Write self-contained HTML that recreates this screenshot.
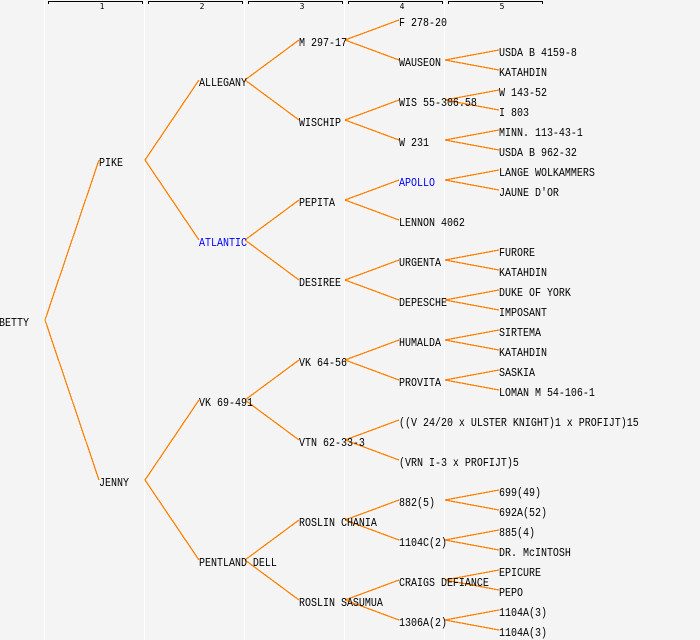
<!DOCTYPE html>
<html><head><meta charset="utf-8">
<style>
html,body{margin:0;padding:0;background:#f4f4f4;width:700px;height:640px;overflow:hidden}
svg{display:block}
text{font-family:"Liberation Mono",monospace;font-size:12px;fill:#000}
.n{font-family:"DejaVu Sans Mono",monospace;font-size:8px;text-anchor:middle}
.b{fill:#0000ff}
</style></head><body>
<svg width="700" height="640" viewBox="0 0 700 640" xmlns="http://www.w3.org/2000/svg">
<rect width="700" height="640" fill="#f4f4f4"/>
<g fill="#ffffff" shape-rendering="crispEdges">
<rect x="44" y="0" width="1" height="640"/><rect x="144" y="0" width="1" height="640"/><rect x="244" y="0" width="1" height="640"/><rect x="344" y="0" width="1" height="640"/><rect x="444" y="0" width="1" height="640"/>
</g>
<g fill="none" stroke="#000" stroke-width="1" shape-rendering="crispEdges">
<path d="M48.5 4V1.5H142.5V4M148.5 4V1.5H242.5V4M248.5 4V1.5H342.5V4M348.5 4V1.5H442.5V4M448.5 4V1.5H542.5V4"/>
</g>
<text class="n" x="102" y="9">1</text><text class="n" x="202" y="9">2</text><text class="n" x="302" y="9">3</text><text class="n" x="402" y="9">4</text><text class="n" x="502" y="9">5</text>
<g fill="none" stroke="#ff8000" stroke-width="1.25" shape-rendering="crispEdges">
<path d="M45 320L99 160M45 320L99 480"/>
<path d="M145 160L199 80M145 160L199 240M145 480L199 400M145 480L199 560"/>
<path d="M245 80L299 40M245 80L299 120M245 240L299 200M245 240L299 280M245 400L299 360M245 400L299 440M245 560L299 520M245 560L299 600"/>
<path d="M345 40L399 20M345 40L399 60M345 120L399 100M345 120L399 140M345 200L399 180M345 200L399 220M345 280L399 260M345 280L399 300M345 360L399 340M345 360L399 380M345 440L399 420M345 440L399 460M345 520L399 500M345 520L399 540M345 600L399 580M345 600L399 620"/>
<path d="M445 60L499 50M445 60L499 70M445 100L499 90M445 100L499 110M445 140L499 130M445 140L499 150M445 180L499 170M445 180L499 190M445 260L499 250M445 260L499 270M445 300L499 290M445 300L499 310M445 340L499 330M445 340L499 350M445 380L499 370M445 380L499 390M445 500L499 490M445 500L499 510M445 540L499 530M445 540L499 550M445 580L499 570M445 580L499 590M445 620L499 610M445 620L499 630"/>
</g>
<g transform="scale(0.83333,1)">
<text x="-1.2" y="326">BETTY</text>
<text x="118.8" y="166">PIKE</text>
<text x="118.8" y="486">JENNY</text>
<text x="238.8" y="86">ALLEGANY</text>
<text class="b" x="238.8" y="246">ATLANTIC</text>
<text x="238.8" y="406">VK 69-491</text>
<text x="238.8" y="566">PENTLAND DELL</text>
<text x="358.8" y="46">M 297-17</text>
<text x="358.8" y="126">WISCHIP</text>
<text x="358.8" y="206">PEPITA</text>
<text x="358.8" y="286">DESIREE</text>
<text x="358.8" y="366">VK 64-56</text>
<text x="358.8" y="446">VTN 62-33-3</text>
<text x="358.8" y="526">ROSLIN CHANIA</text>
<text x="358.8" y="606">ROSLIN SASUMUA</text>
<text x="478.8" y="26">F 278-20</text>
<text x="478.8" y="66">WAUSEON</text>
<text x="478.8" y="106">WIS 55-306.58</text>
<text x="478.8" y="146">W 231</text>
<text class="b" x="478.8" y="186">APOLLO</text>
<text x="478.8" y="226">LENNON 4062</text>
<text x="478.8" y="266">URGENTA</text>
<text x="478.8" y="306">DEPESCHE</text>
<text x="478.8" y="346">HUMALDA</text>
<text x="478.8" y="386">PROVITA</text>
<text x="478.8" y="426">((V 24/20 x ULSTER KNIGHT)1 x PROFIJT)15</text>
<text x="478.8" y="466">(VRN I-3 x PROFIJT)5</text>
<text x="478.8" y="506">882(5)</text>
<text x="478.8" y="546">1104C(2)</text>
<text x="478.8" y="586">CRAIGS DEFIANCE</text>
<text x="478.8" y="626">1306A(2)</text>
<text x="598.8" y="56">USDA B 4159-8</text>
<text x="598.8" y="76">KATAHDIN</text>
<text x="598.8" y="96">W 143-52</text>
<text x="598.8" y="116">I 803</text>
<text x="598.8" y="136">MINN. 113-43-1</text>
<text x="598.8" y="156">USDA B 962-32</text>
<text x="598.8" y="176">LANGE WOLKAMMERS</text>
<text x="598.8" y="196">JAUNE D'OR</text>
<text x="598.8" y="256">FURORE</text>
<text x="598.8" y="276">KATAHDIN</text>
<text x="598.8" y="296">DUKE OF YORK</text>
<text x="598.8" y="316">IMPOSANT</text>
<text x="598.8" y="336">SIRTEMA</text>
<text x="598.8" y="356">KATAHDIN</text>
<text x="598.8" y="376">SASKIA</text>
<text x="598.8" y="396">LOMAN M 54-106-1</text>
<text x="598.8" y="496">699(49)</text>
<text x="598.8" y="516">692A(52)</text>
<text x="598.8" y="536">885(4)</text>
<text x="598.8" y="556">DR. McINTOSH</text>
<text x="598.8" y="576">EPICURE</text>
<text x="598.8" y="596">PEPO</text>
<text x="598.8" y="616">1104A(3)</text>
<text x="598.8" y="636">1104A(3)</text>
</g>
</svg>
</body></html>
